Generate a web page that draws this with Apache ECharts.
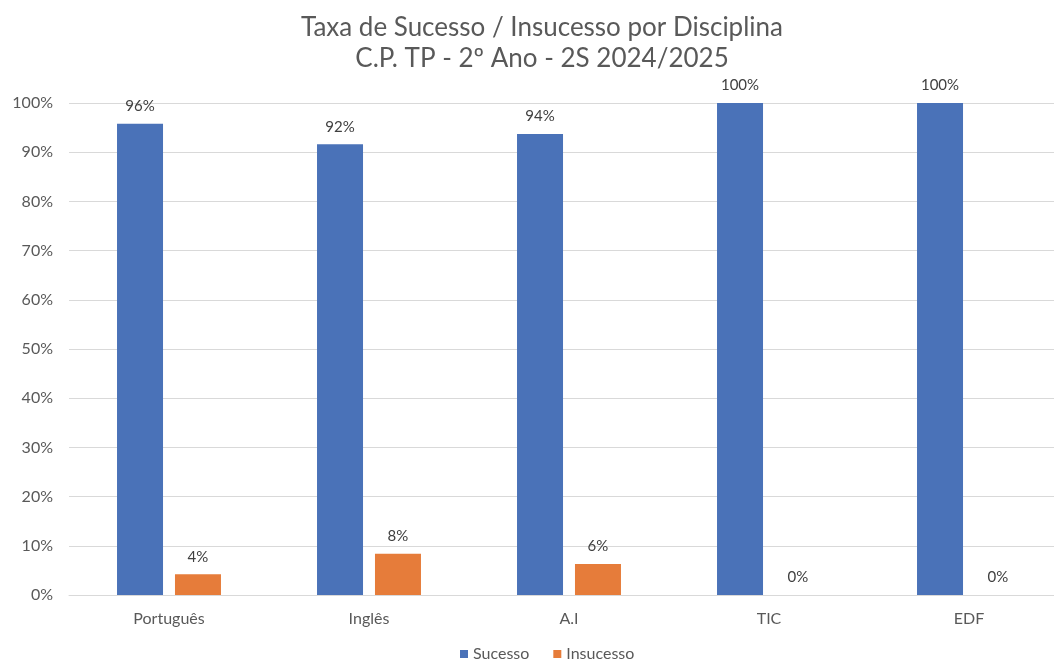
<!DOCTYPE html>
<html><head><meta charset="utf-8">
<script src="https://cdn.jsdelivr.net/npm/echarts@6/dist/echarts.min.js"></script>
<style>html,body{margin:0;padding:0;background:#fff;overflow:hidden}#c{width:1070px;height:667px}</style>
</head><body><div id="c"></div>
<script>
const categories = ['Português', 'Inglês', 'A.I', 'TIC', 'EDF'];
const sucesso = [95.8, 91.6, 93.7, 100, 100];
const insucesso = [4.2, 8.4, 6.3, 0, 0];
const yTicks = [0, 10, 20, 30, 40, 50, 60, 70, 80, 90, 100];
const FONT = 'Lato, "Open Sans", sans-serif';
const chart = echarts.init(document.getElementById('c'));
const lbl = {show: true, position: 'top', distance: 10, color: '#404040', fontSize: 15, fontFamily: FONT,
  formatter: p => Math.round(p.value) + '%'};
chart.setOption({
  animation: false,
  title: {
    text: 'Taxa de Sucesso / Insucesso por Disciplina\nC.P. TP - 2º Ano - 2S 2024/2025',
    left: 537, top: 7, textAlign: 'center',
    textStyle: {fontFamily: FONT, fontSize: 26, fontWeight: 'normal', color: '#595959', lineHeight: 31}
  },
  legend: {
    bottom: 0, left: 455, itemWidth: 8, itemHeight: 8, itemGap: 24, icon: 'rect',
    textStyle: {fontFamily: FONT, fontSize: 16, color: '#595959', padding: [0, 0, 0, 0]},
    data: ['Sucesso', 'Insucesso']
  },
  grid: {left: 69, top: 103, right: 1, bottom: 72},
  xAxis: {
    type: 'category', data: categories,
    axisLine: {lineStyle: {color: '#d9d9d9'}}, axisTick: {show: false},
    axisLabel: {fontFamily: FONT, fontSize: 16, color: '#595959', margin: 16}
  },
  yAxis: {
    type: 'value', min: 0, max: 100, interval: 10,
    axisLabel: {fontFamily: FONT, fontSize: 16, color: '#595959', margin: 16, formatter: v => v + '%'},
    axisLine: {show: false}, axisTick: {show: false},
    splitLine: {lineStyle: {color: '#d9d9d9'}}
  },
  series: [
    {name: 'Sucesso', type: 'bar', data: sucesso, barWidth: 46, barGap: '26%',
     itemStyle: {color: '#4a72b8'}, label: lbl},
    {name: 'Insucesso', type: 'bar', data: insucesso, barWidth: 46,
     itemStyle: {color: '#e67c3a'}, label: lbl}
  ]
});
</script></body></html>
